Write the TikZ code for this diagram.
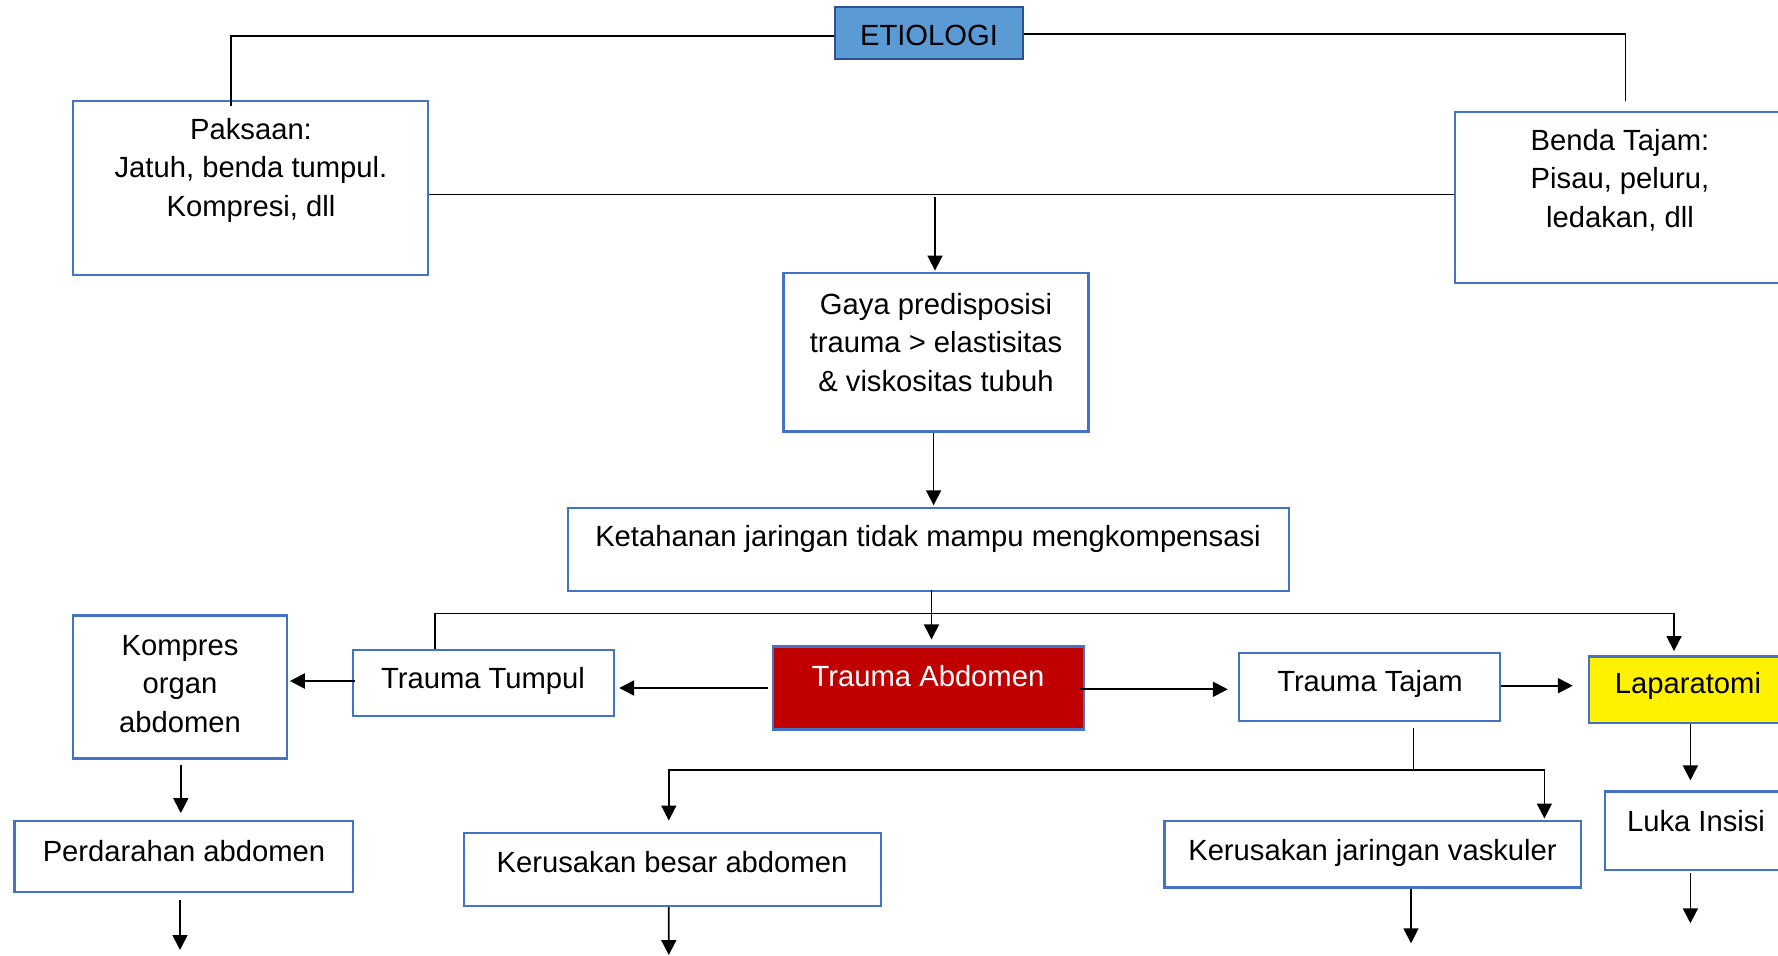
\documentclass[tikz,border=0pt]{standalone}
\usepackage{fontspec}
\setmainfont{Liberation Sans}
\usetikzlibrary{arrows.meta,calc}
\definecolor{bordblue}{HTML}{4472C4}
\definecolor{etiofill}{HTML}{5B9BD5}
\definecolor{etiobord}{HTML}{2F528F}
\definecolor{darkred}{HTML}{C00000}
\newcommand\fs{\fontsize{14.6pt}{19.25pt}\selectfont}
\begin{document}
\begin{tikzpicture}[x=0.5pt,y=-0.5pt,
  box/.style={draw=bordblue,line width=1.2pt,fill=white,rectangle,inner sep=0pt},
  txt/.style={inner sep=0pt,align=center,font=\fs},
  conn/.style={line width=0.55pt,black},
  arr/.style={line width=0.85pt,black,-{Triangle[length=7.5pt,width=7.5pt]}},
  arrT/.style={line width=1.05pt,black,-{Triangle[length=7.5pt,width=7.5pt]}}]
\clip (0,0) rectangle (1778,956);
\fill[white] (0,0) rectangle (1778,956);

% boxes
\node[box,draw=etiobord,fill=etiofill,minimum width=94pt,minimum height=26pt] (etio) at (929,33) {};
\node[box,minimum width=177.5pt,minimum height=87pt] (paksaan) at (250.5,188) {};
\node[box,minimum width=165.5pt,minimum height=85.5pt] (benda) at (1620.5,197.5) {};
\node[box,minimum width=152.5pt,minimum height=79.2pt] (gaya) at (936,352.5) {};
\node[box,minimum width=360.5pt,minimum height=41.5pt] (keta) at (928.5,549.5) {};
\node[box,fill=darkred,minimum width=155.5pt,minimum height=41.3pt] (abdomen) at (928.5,688) {};
\node[box,minimum width=130.5pt,minimum height=33pt] (tumpul) at (483.5,683) {};
\node[box,minimum width=130.5pt,minimum height=33.7pt] (tajam) at (1369.5,687) {};
\node[box,fill=yellow,minimum width=98.5pt,minimum height=33pt] (lapar) at (1687.5,689.7) {};
\node[box,minimum width=107pt,minimum height=71.3pt] (kompres) at (180,687) {};
\node[box,minimum width=169.3pt,minimum height=35.5pt] (perdarahan) at (183.7,856.5) {};
\node[box,minimum width=208.7pt,minimum height=36.5pt] (besar) at (672.5,869.2) {};
\node[box,minimum width=208.2pt,minimum height=33.3pt] (vaskuler) at (1372.8,854) {};
\node[box,minimum width=91pt,minimum height=39.2pt] (luka) at (1696,830.8) {};

% texts
\node[txt] (etioT) at (929,35.5) {ETIOLOGI};
\node[txt] (paksaanT) at (251,170) {Paksaan:\\Jatuh, benda tumpul.\\Kompresi, dll};
\node[txt] (bendaT) at (1620,180) {Benda Tajam:\\Pisau, peluru,\\ledakan, dll};
\node[txt] (gayaT) at (936,342.5) {Gaya predisposisi\\trauma > elastisitas\\\& viskositas tubuh};
\node[txt] (ketaT) at (928,538.5) {Ketahanan jaringan tidak mampu mengkompensasi};
\node[txt,text=white] (abdomenT) at (928,676) {Trauma Abdomen};
\node[txt] (tumpulT) at (483,680.5) {Trauma Tumpul};
\node[txt] (tajamT) at (1370,683.5) {Trauma Tajam};
\node[txt] (laparT) at (1688,686) {Laparatomi};
\node[txt] (kompresT) at (180,684) {Kompres\\organ\\abdomen};
\node[txt] (perdarahanT) at (184,851) {Perdarahan abdomen};
\node[txt] (besarT) at (672,862.5) {Kerusakan besar abdomen};
\node[txt] (vaskulerT) at (1372.5,852.5) {Kerusakan jaringan vaskuler};
\node[txt] (lukaT) at (1696,821) {Luka Insisi};

% top connectors
\draw[conn] ($(etio.west)+(0,3)$) -| ($(paksaan.north)+(-19.5,6)$);
\draw[conn] ($(etio.east)+(0,1)$) -| ($(benda.north)+(5,-10)$);
\coordinate (j1) at (935,194.3);
\draw[conn] (paksaan.east |- j1) -- (benda.west |- j1);
\draw[arr] ($(j1)+(0,2.5)$) -- ($(gaya.north)+(-1,-1.5)$);
\draw[arr] ($(gaya.south)+(-2.4,0)$) -- ($(keta.north)+(5.1,-1.5)$);

% middle
\coordinate (tr) at (1674,613.3);
\draw[conn] ($(tumpul.north)+(-48.5,0)$) |- (tr);
\draw[arr] (tr) -- ($(lapar.north)+(-13.5,-4.4)$);
\draw[arr] ($(keta.south)+(3,-2)$) -- ($(abdomen.north)+(3,-6)$);
\draw[arrT] ($(abdomen.west)+(-4,0)$) -- ([xshift=2pt]tumpul.east |- abdomen.west);
\draw[arrT] ($(abdomen.east)+(-5,1.3)$) -- ([xshift=-5pt]tajam.west |- {$(abdomen.east)+(0,1.3)$});
\draw[arrT] ($(tajam.east)+(0,-1.3)$) -- ([xshift=-7.5pt]lapar.west |- {$(tajam.east)+(0,-1.3)$});
\draw[arrT] ($(tumpul.west)+(3,-2)$) -- ([xshift=0.8pt]kompres.east |- {$(tumpul.west)+(0,-2)$});

% lower left
\draw[arr] ($(kompres.south)+(0.8,5)$) -- ($(perdarahan.north)+(-2.9,-6.7)$);
\coordinate (pe) at (180,950);
\draw[arr] ($(perdarahan.south)+(-3.7,6.3)$) -- (pe);

% trauma tajam branches
\coordinate (j3) at (1413.8,770);
\draw[conn] ($(tajam.south -| j3)+(0,6)$) -- (j3);
\draw[arr] (j3) -| ($(besar.north)+(-3.7,-11)$);
\draw[arr] (j3) -| ($(vaskuler.north)+(171.6,-1)$);
\coordinate (be) at (668.8,955);
\draw[arr] ($(besar.south)+(-3.7,0)$) -- (be);
\coordinate (ve) at (1411,943.3);
\draw[arr] (vaskuler.south -| ve) -- (ve);
\draw[arr] ($(lapar.south)+(2.9,0)$) -- ($(luka.north)+(-5.6,-10)$);
\coordinate (le) at (1690.4,923.3);
\draw[arr] ($(luka.south)+(-5.6,1.5)$) -- (le);
\end{tikzpicture}
\end{document}
